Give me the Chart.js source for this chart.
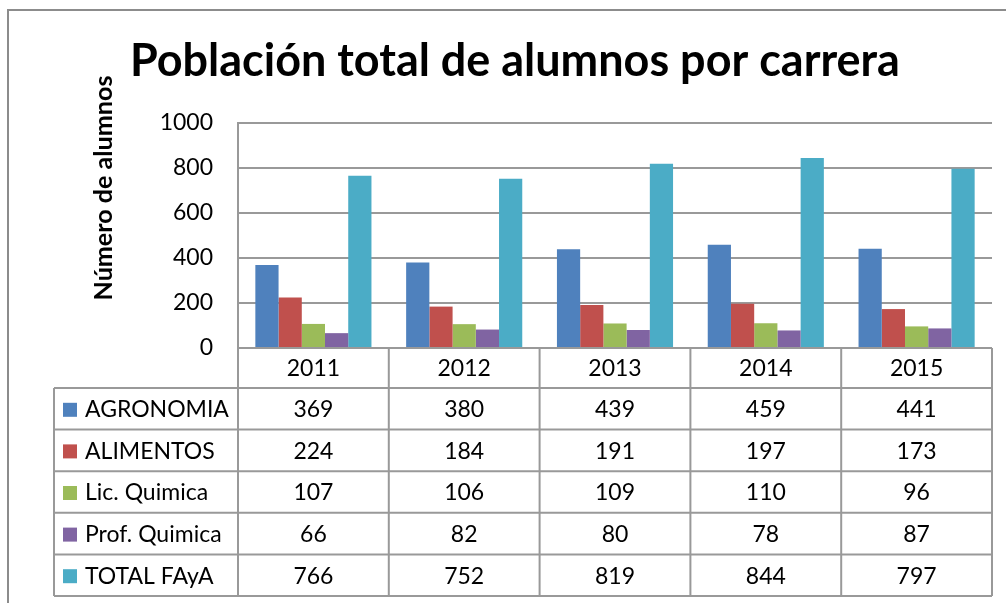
<!DOCTYPE html>
<html>
<head>
<meta charset="utf-8">
<title>Población total de alumnos por carrera</title>
<script src="https://cdn.jsdelivr.net/npm/chart.js@4"></script>
<style>
  html, body { margin: 0; padding: 0; background: #fff; }
  #chart { display: block; }
</style>
</head>
<body>
<canvas id="chart" width="1006" height="603"></canvas>
<script>
var years = ['2011', '2012', '2013', '2014', '2015'];
var seriesNames = ['AGRONOMIA', 'ALIMENTOS', 'Lic. Quimica', 'Prof. Quimica', 'TOTAL FAyA'];
var agronomia = [369, 380, 439, 459, 441];
var alimentos = [224, 184, 191, 197, 173];
var licQuimica = [107, 106, 109, 110, 96];
var profQuimica = [66, 82, 80, 78, 87];
var totalFaya = [766, 752, 819, 844, 797];
var yTicks = [0, 200, 400, 600, 800, 1000];

var colors = ['#4F81BD', '#C0504D', '#9BBB59', '#8064A2', '#4BACC6'];
var seriesValues = [agronomia, alimentos, licQuimica, profQuimica, totalFaya];

var titleText = 'Población total de alumnos por carrera';
var axisTitle = 'Número de alumnos';
var family = 'Lato, "Open Sans", sans-serif';
var lineGrey = '#999999';
var textSize = 23;

// font size that makes text exactly targetW wide
function fitSize(ctx, text, weight, targetW) {
    ctx.font = weight + ' 100px ' + family;
    return 100 * targetW / ctx.measureText(text).width;
}

var datasets = [];
for (var i = 0; i < seriesNames.length; i++) {
    datasets.push({
        label: seriesNames[i],
        data: seriesValues[i],
        backgroundColor: colors[i],
        borderWidth: 0
    });
}

var decorPlugin = {
    id: 'decor',
    beforeDraw: function(chart) {
        var ctx = chart.ctx;
        ctx.save();
        ctx.strokeStyle = '#8c8c8c';
        ctx.lineWidth = 2;
        ctx.beginPath();
        ctx.moveTo(8, chart.height);
        ctx.lineTo(8, 10);
        ctx.lineTo(chart.width, 10);
        ctx.stroke();
        ctx.restore();
    },
    afterDraw: function(chart) {
        var ctx = chart.ctx;
        var x = chart.scales.x;
        var area = chart.chartArea;
        ctx.save();

        // title
        var ts = fitSize(ctx, titleText, 'bold', 770);
        ctx.font = 'bold ' + ts + 'px ' + family;
        ctx.fillStyle = '#000';
        ctx.textAlign = 'left';
        ctx.textBaseline = 'alphabetic';
        ctx.fillText(titleText, 130, 76);

        // y axis title
        var as = fitSize(ctx, axisTitle, 'bold', 225);
        ctx.save();
        ctx.translate(104, 188);
        ctx.rotate(-Math.PI / 2);
        ctx.font = 'bold ' + as + 'px ' + family;
        ctx.textAlign = 'center';
        ctx.textBaseline = 'middle';
        ctx.fillText(axisTitle, 0, 0);
        ctx.restore();

        // data table
        var n = years.length;
        var colW = (x.right - x.left) / n;
        var top = area.bottom;
        var headH = 40;
        var rowH = 41.6;
        var tableLeft = 54;
        var bottom = top + headH + rowH * seriesNames.length;

        ctx.strokeStyle = lineGrey;
        ctx.lineWidth = 2;
        ctx.beginPath();
        ctx.moveTo(x.left, top);
        ctx.lineTo(x.right, top);
        for (var c = 0; c <= n; c++) {
            var cx = x.left + c * colW;
            ctx.moveTo(cx, top);
            ctx.lineTo(cx, bottom);
        }
        for (var r = 0; r <= seriesNames.length; r++) {
            var ry = top + headH + r * rowH;
            ctx.moveTo(tableLeft, ry);
            ctx.lineTo(x.right, ry);
        }
        ctx.moveTo(tableLeft, top + headH);
        ctx.lineTo(tableLeft, bottom);
        ctx.stroke();

        ctx.font = textSize + 'px ' + family;
        ctx.fillStyle = '#000';
        ctx.textBaseline = 'middle';
        ctx.textAlign = 'center';
        for (var j = 0; j < n; j++) {
            ctx.fillText(years[j], x.getPixelForValue(j), top + headH / 2 + 1);
        }
        for (var s = 0; s < seriesNames.length; s++) {
            var cy = top + headH + s * rowH + rowH / 2 + 1;
            ctx.fillStyle = colors[s];
            ctx.fillRect(63, cy - 7, 14, 14);
            ctx.fillStyle = '#000';
            ctx.textAlign = 'left';
            ctx.fillText(seriesNames[s], 85, cy);
            ctx.textAlign = 'center';
            for (var k = 0; k < n; k++) {
                ctx.fillText(String(seriesValues[s][k]), x.getPixelForValue(k), cy);
            }
        }
        ctx.restore();
    }
};

var config = {
    type: 'bar',
    data: {
        labels: years,
        datasets: datasets
    },
    options: {
        responsive: false,
        animation: false,
        layout: {
            padding: { top: 123, right: 14, bottom: 255, left: 0 }
        },
        datasets: {
            bar: { categoryPercentage: 0.77, barPercentage: 1.0 }
        },
        plugins: {
            legend: { display: false },
            title: { display: false },
            tooltip: { enabled: false }
        },
        scales: {
            x: {
                display: false
            },
            y: {
                min: 0,
                max: 1000,
                afterFit: function(scale) { scale.width = 238; },
                afterBuildTicks: function(scale) {
                    scale.ticks = yTicks.map(function(v) { return { value: v }; });
                },
                grid: { color: lineGrey, lineWidth: 2, drawTicks: false },
                border: { display: true, color: lineGrey, width: 2 },
                ticks: {
                    padding: 25,
                    color: '#000',
                    font: { family: family, size: textSize },
                    callback: function(v) { return String(v); }
                }
            }
        }
    },
    plugins: [decorPlugin]
};

window.onload = function() {
    var ctx = document.getElementById('chart').getContext('2d');
    window.myChart = new Chart(ctx, config);
};
</script>
</body>
</html>
